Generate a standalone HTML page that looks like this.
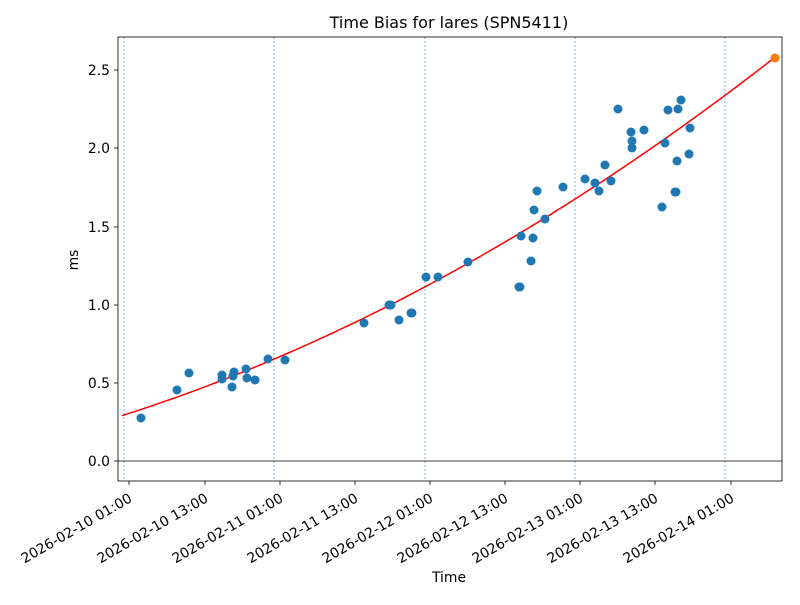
<!DOCTYPE html>
<html><head><meta charset="utf-8"><style>
body{margin:0;background:#fff}
svg text{font-family:"DejaVu Sans","Liberation Sans",sans-serif;fill:#000}
</style></head><body>
<svg id="s" width="800" height="600" xmlns="http://www.w3.org/2000/svg">
<rect width="800" height="600" fill="#fff"/>
<g stroke="#1f77b4" stroke-width="0.6" stroke-dasharray="2,2">
<line x1="124" y1="37" x2="124" y2="481"/>
<line x1="274" y1="37" x2="274" y2="481"/>
<line x1="425" y1="37" x2="425" y2="481"/>
<line x1="575" y1="37" x2="575" y2="481"/>
<line x1="725" y1="37" x2="725" y2="481"/>
</g>
<line x1="118" y1="461" x2="782" y2="461" stroke="#000" stroke-width="0.7"/>
<polyline id="curve" fill="none" stroke="#ff0000" stroke-width="1.5"/>
<g id="pts" fill="#1f77b4"></g>
<circle cx="775" cy="58" r="4.5" fill="#ff7f0e"/>
<rect x="118" y="37" width="664" height="444" fill="none" stroke="#000" stroke-width="0.8"/>
<g id="ticks" stroke="#000" stroke-width="0.8"></g>
<g id="lbl" font-size="13.9"></g>
<text x="449" y="28" font-size="16" text-anchor="middle">Time Bias for lares (SPN5411)</text>
<text x="449" y="582" font-size="13.9" text-anchor="middle">Time</text>
<text x="78" y="260" font-size="13.9" text-anchor="middle" transform="rotate(-90,78,260)">ms</text>
</svg>
<script>
var ns="http://www.w3.org/2000/svg";
function el(t,a,p,txt){var e=document.createElementNS(ns,t);for(var k in a)e.setAttribute(k,a[k]);if(txt)e.textContent=txt;document.getElementById(p).appendChild(e);}
var pts=[[141,418],[177,390],[189,373],[222,375],[222,379],[232,387],[233,376],[234,372],[246,369],[247,378],[255,380],[268,359],[285,360],[364,323],[389,305],[391,305],[399,320],[411,313],[412,313],[426,277],[438,277],[468,262],[519,287],[520,287],[521,236],[531,261],[533,238],[534,210],[537,191],[545,219],[563,187],[585,179],[595,183],[599,191],[605,165],[611,181],[618,109],[631,132],[632,141],[632,148],[644,130],[662,207],[665,143],[668,110],[675,192],[676,192],[677,161],[678,109],[681,100],[689,154],[690,128]];
pts.forEach(function(p){el("circle",{cx:p[0],cy:p[1],r:4.5},"pts");});
var s="";for(var x=122;x<=775;x+=3){var t=(x-122)/653;var v=0.29+1.326*t+0.964*t*t;s+=x+","+(461-156.5*v).toFixed(1)+" ";}
document.getElementById("curve").setAttribute("points",s);
var yt=[["0.0",461],["0.5",383],["1.0",305],["1.5",227],["2.0",148],["2.5",70]];
yt.forEach(function(a){el("line",{x1:114,y1:a[1],x2:118,y2:a[1]},"ticks");el("text",{x:110,y:a[1]+5,"text-anchor":"end"},"lbl",a[0]);});
var xt=[[129,"2026-02-10 01:00"],[205,"2026-02-10 13:00"],[280,"2026-02-11 01:00"],[355,"2026-02-11 13:00"],[430,"2026-02-12 01:00"],[505,"2026-02-12 13:00"],[580,"2026-02-13 01:00"],[655,"2026-02-13 13:00"],[731,"2026-02-14 01:00"]];
xt.forEach(function(a){el("line",{x1:a[0],y1:481,x2:a[0],y2:485},"ticks");el("text",{x:a[0]+4,y:501,"text-anchor":"end",transform:"rotate(-30,"+(a[0]+4)+",501)"},"lbl",a[1]);});
</script>
</body></html>
